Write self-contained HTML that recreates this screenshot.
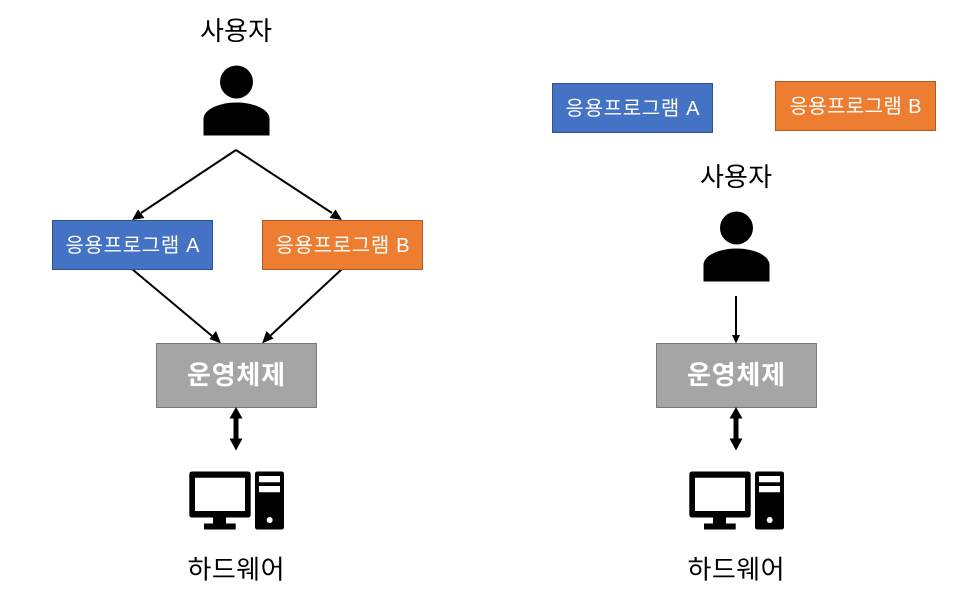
<!DOCTYPE html>
<html><head><meta charset="utf-8">
<style>
html,body{margin:0;padding:0;background:#fff;width:962px;height:612px;overflow:hidden}
svg{display:block}
text{font-family:"Liberation Sans","Noto Sans CJK KR","NanumGothic",sans-serif;text-anchor:middle}
.l{font-size:26px;fill:#000}
.b{font-size:20px;fill:#fff}
.o{font-size:26px;fill:#fff;font-weight:700}
</style></head><body>
<svg width="962" height="612" viewBox="0 0 962 612" xmlns="http://www.w3.org/2000/svg">
<defs>
<g id="person" fill="#000">
<circle cx="236.5" cy="82" r="16.5"/>
<path d="M203.5 135.5V119C203.5 109 220 102.500 236.500 102.500S269.500 109 269.500 119V135.500Z"/>
</g>
<g id="stack">
<rect x="156.500" y="343.500" width="160" height="64" fill="#a5a5a5" stroke="#787878" stroke-width="1"/>
<text class="o" x="236" y="384" textLength="98" lengthAdjust="spacing">운영체제</text>
<path d="M236 407L242.500 418.500H238.500V438.500H242.500L236 450.500L229.500 438.500H233.500V418.500H229.500Z" fill="#000"/>
<path fill-rule="evenodd" d="M192 471.500H248Q250.700 471.500 250.700 474.500V514.500Q250.700 517.500 248 517.500H226V523.500H235.700V529.500H204V523.500H213V517.500H192Q189.300 517.500 189.300 514.500V474.500Q189.300 471.500 192 471.500ZM195 477.700V511H245V477.700Z" fill="#000"/>
<path fill-rule="evenodd" d="M257.500 471.500H281.500Q284 471.500 284 474V527Q284 529.500 281.500 529.500H257.500Q255 529.500 255 527V474Q255 471.500 257.500 471.500ZM259 476V482.300H280V476ZM259 486V492.300H280V486Z" fill="#000"/>
<circle cx="269.700" cy="520" r="3" fill="#fff"/>
<text class="l" x="236" y="578.500" textLength="97" lengthAdjust="spacing">하드웨어</text>
</g>
</defs>

<text class="l" x="236" y="40" textLength="72" lengthAdjust="spacing">사용자</text>
<use href="#person"/>
<g stroke="#000" stroke-width="2" fill="none">
<path d="M236 150L141 213"/>
<path d="M236 150L332 213"/>
<path d="M132 269L212 336"/>
<path d="M342 269L270 336"/>
</g>
<g fill="#000">
<path d="M132 220L138 209.500L144.500 218Z"/>
<path d="M342 220L329.500 218L335.500 209.500Z"/>
<path d="M221 343.500L209.500 339L216 331Z"/>
<path d="M262 343.500L266.500 331L273.500 338.500Z"/>
</g>
<rect x="52.500" y="220.500" width="160" height="49" fill="#4472c4" stroke="#2f528f"/>
<text class="b" x="132.500" y="252" textLength="134" lengthAdjust="spacing">응용프로그램 A</text>
<rect x="262.500" y="220.500" width="160" height="49" fill="#ed7d31" stroke="#ae5a21"/>
<text class="b" x="342.500" y="252" textLength="134" lengthAdjust="spacing">응용프로그램 B</text>
<use href="#stack"/>

<rect x="552.500" y="83.500" width="160" height="49" fill="#4472c4" stroke="#2f528f"/>
<text class="b" x="632.500" y="115" textLength="134" lengthAdjust="spacing">응용프로그램 A</text>
<rect x="775.500" y="81.500" width="160" height="49" fill="#ed7d31" stroke="#ae5a21"/>
<text class="b" x="855.500" y="113" textLength="132" lengthAdjust="spacing">응용프로그램 B</text>
<text class="l" x="736" y="186" textLength="72" lengthAdjust="spacing">사용자</text>
<use href="#person" transform="translate(500 146)"/>
<path d="M736 296V336" stroke="#000" stroke-width="2" fill="none"/>
<path d="M736 343.500L732 335H740Z" fill="#000"/>
<use href="#stack" transform="translate(500 0)"/>
</svg>
</body></html>
